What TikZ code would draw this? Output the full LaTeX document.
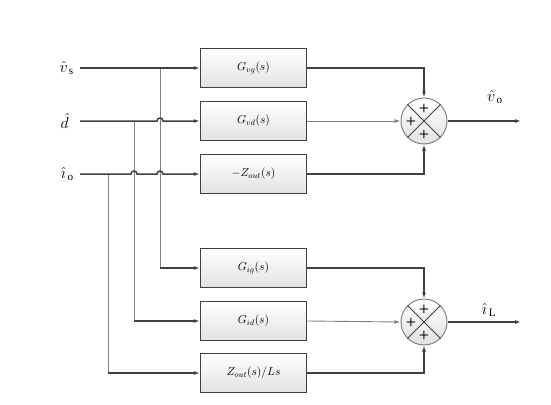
\RequirePackage{fix-cm}
\documentclass[tikz,border=0pt]{standalone}
\usepackage{fontspec}
\setmainfont{Liberation Serif}
\usetikzlibrary{arrows.meta,positioning,calc}
\definecolor{expDarkLine}{RGB}{64,64,64}
\definecolor{expGrayLine}{RGB}{130,130,130}
\definecolor{expBoxShade}{RGB}{226,226,226}
\colorlet{darkline}{expDarkLine}
\colorlet{grayline}{expGrayLine}
\colorlet{boxshade}{expBoxShade}

\begin{document}
\begin{tikzpicture}[x=1pt,y=-1pt,>={Latex[length=6pt,width=4pt]},
  blk/.style={draw=darkline,line width=1.5pt,top color=white,bottom color=boxshade,minimum width=106pt,minimum height=39pt,font=\fontsize{11.5}{13}\selectfont},
  sumnode/.style={circle,draw=grayline,line width=1pt,inner sep=0pt,minimum size=46pt,top color=white,bottom color=boxshade},
  plus/.style={inner sep=0pt,font=\sffamily\bfseries\fontsize{12}{12}\selectfont},
  sig/.style={inner sep=1pt,font=\fontsize{16}{18}\selectfont},
  main/.style={draw=darkline,line width=1.5pt},
  thinline/.style={draw=grayline,line width=0.9pt}]
\useasboundingbox (0,0) rectangle (551,404);

% inputs
\coordinate (vs) at (80,68);
\coordinate (dd) at (80,121);
\coordinate (io) at (80,174);
\node[sig,left=5pt of vs] (lvs) {$\hat{v}_{\,\mathrm{s}}$};
\node[sig,left=10pt of dd] (ldd) {$\hat{d}$};
\node[sig,left=5pt of io] (lio) {$\hat{\imath}_{\,\mathrm{o}}$};
\coordinate (j1) at (160,68);
\coordinate (j2) at (134,121);
\coordinate (j3) at (108,174);

% transfer blocks
\node[blk] (b1) at (253.5,68) {$G_{vg}(s)$};
\node[blk,below=12.5pt of b1] (b2) {$G_{vd}(s)$};
\node[blk,below=12.5pt of b2] (b3) {$-Z_{out}(s)$};
\node[blk] (b4) at (253.5,268) {$G_{ig}(s)$};
\node[blk,below=12.5pt of b4] (b5) {$G_{id}(s)$};
\node[blk,below=11.5pt of b5] (b6) {$Z_{out}(s)/Ls$};

% summing junctions
\node[sumnode] (s1) at (424,121) {};
\node[sumnode] (s2) at (424,322) {};
\foreach \s in {s1,s2}{
  \draw[darkline,line width=0.8pt] (\s.north west) -- (\s.south east) (\s.north east) -- (\s.south west);
  \node[plus] (\s-t) at ($(\s)+(0,-13)$) {+};
  \node[plus] (\s-l) at ($(\s)+(-13,0)$) {+};
  \node[plus] (\s-b) at ($(\s)+(0,13)$) {+};
}

% branches
\draw[thinline] (j1) -- (j1 |- b4.west);
\draw[thinline] (j2) -- (j2 |- b5.west);
\draw[thinline] (j3) -- (j3 |- b6.west);
\draw[main,->] (j1 |- b4.west) -- (b4.west);
\draw[main,->] (j2 |- b5.west) -- (b5.west);
\draw[main,->] (j3 |- b6.west) -- (b6.west);

% input lines with hops
\draw[main,->] (vs) -- (b1.west);
\draw[main,->] (dd) -- ($(j1 |- dd)+(-3,0)$) arc[start angle=180,end angle=360,radius=3] -- (b2.west);
\draw[main,->] (io) -- ($(j2 |- io)+(-3,0)$) arc[start angle=180,end angle=360,radius=3]
  -- ($(j1 |- io)+(-3,0)$) arc[start angle=180,end angle=360,radius=3] -- (b3.west);

% block outputs
\draw[main,->] (b1.east) -| (s1.north);
\draw[thinline,->] (b2.east) -- (s1.west);
\draw[main,->] (b3.east) -| (s1.south);
\draw[main,->] (b4.east) -| (s2.north);
\draw[thinline,->] (b5.east) -- (s2.west);
\draw[main,->] (b6.east) -| (s2.south);

% outputs
\coordinate (vo) at (521,121);
\coordinate (il) at (521,322);
\draw[main,line width=1.9pt,->] (s1.east) -- (vo);
\draw[main,line width=1.9pt,->] (s2.east) -- (il);
\node[sig] (lvo) at (495,97) {$\hat{v}_{\,\mathrm{o}}$};
\node[sig] (lil) at (489,310) {$\hat{\imath}_{\,\mathrm{L}}$};
\end{tikzpicture}
\end{document}
